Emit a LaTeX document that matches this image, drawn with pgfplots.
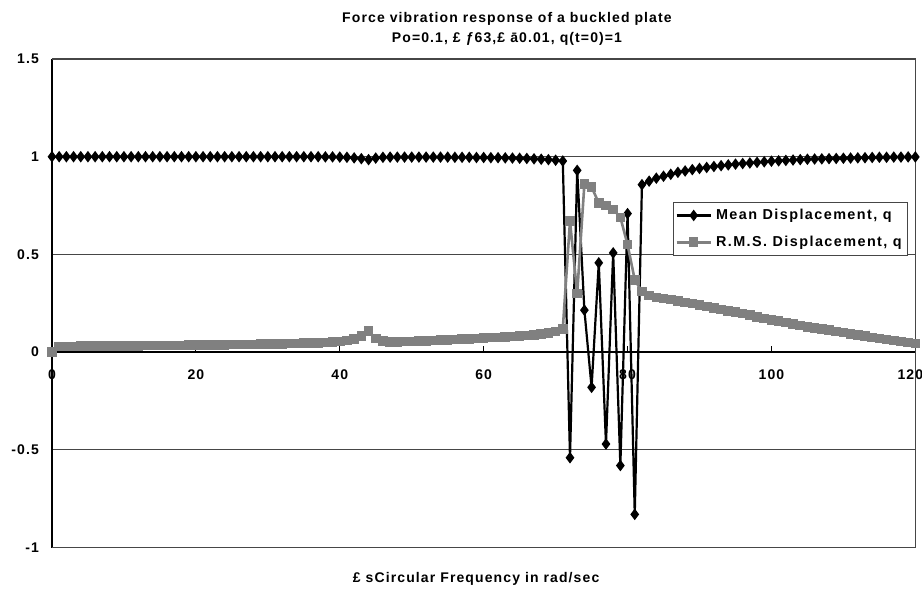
\documentclass[border=0pt]{standalone}
\usepackage{pgfplots}
\pgfplotsset{compat=1.18}
\usepackage{pgfplotstable}
\usepackage{fontspec}
\setmainfont[LetterSpace=8]{Liberation Sans}
\newfontfamily\legfont[LetterSpace=10]{Liberation Sans}
\newcommand{\cf}{\fontsize{7}{8.4}\selectfont\bfseries}
\newcommand{\lf}{\legfont\fontsize{7.2}{8.6}\selectfont\bfseries}
\definecolor{rmsgray}{RGB}{128,128,128}
\definecolor{gridc}{RGB}{70,70,70}
\pgfplotstableread{
x mean rms
0 1.000 0.000
1 1.000 0.030
2 1.000 0.030
3 1.000 0.030
4 1.000 0.031
5 1.000 0.031
6 1.000 0.031
7 1.000 0.032
8 1.000 0.032
9 1.000 0.032
10 1.000 0.033
11 1.000 0.033
12 1.000 0.033
13 1.000 0.034
14 1.000 0.034
15 1.000 0.034
16 1.000 0.035
17 1.000 0.035
18 1.000 0.035
19 1.000 0.036
20 1.000 0.036
21 1.000 0.037
22 1.000 0.037
23 1.000 0.038
24 1.000 0.038
25 1.000 0.039
26 1.000 0.039
27 1.000 0.040
28 1.000 0.040
29 1.000 0.041
30 1.000 0.041
31 1.000 0.042
32 1.000 0.043
33 1.000 0.044
34 1.000 0.045
35 1.000 0.046
36 1.000 0.047
37 1.000 0.048
38 0.999 0.050
39 0.999 0.052
40 0.998 0.055
41 0.997 0.059
42 0.994 0.066
43 0.990 0.082
44 0.985 0.107
45 0.993 0.070
46 0.997 0.056
47 0.998 0.052
48 0.998 0.053
49 0.998 0.054
50 0.998 0.055
51 0.998 0.056
52 0.998 0.058
53 0.998 0.059
54 0.998 0.061
55 0.998 0.062
56 0.997 0.064
57 0.997 0.066
58 0.997 0.068
59 0.996 0.070
60 0.996 0.072
61 0.995 0.074
62 0.995 0.076
63 0.994 0.078
64 0.993 0.080
65 0.992 0.083
66 0.991 0.086
67 0.989 0.089
68 0.987 0.093
69 0.985 0.098
70 0.982 0.105
71 0.978 0.120
72 -0.540 0.670
73 0.930 0.300
74 0.215 0.860
75 -0.180 0.845
76 0.457 0.763
77 -0.470 0.751
78 0.508 0.730
79 -0.580 0.690
80 0.709 0.550
81 -0.830 0.370
82 0.857 0.310
83 0.875 0.290
84 0.890 0.280
85 0.900 0.275
86 0.910 0.270
87 0.920 0.262
88 0.927 0.255
89 0.934 0.248
90 0.940 0.240
91 0.945 0.233
92 0.950 0.226
93 0.954 0.219
94 0.958 0.212
95 0.962 0.205
96 0.965 0.197
97 0.968 0.189
98 0.971 0.181
99 0.974 0.173
100 0.977 0.165
101 0.979 0.158
102 0.981 0.151
103 0.983 0.144
104 0.985 0.137
105 0.987 0.130
106 0.988 0.124
107 0.989 0.118
108 0.990 0.112
109 0.991 0.106
110 0.992 0.100
111 0.993 0.094
112 0.994 0.088
113 0.995 0.082
114 0.996 0.076
115 0.997 0.070
116 0.997 0.065
117 0.998 0.060
118 0.998 0.055
119 0.999 0.050
120 0.999 0.045
}\data
\begin{document}
\begin{tikzpicture}
\begin{axis}[
  scale only axis, width=432pt, height=244.5pt,
  xmin=0, xmax=120, ymin=-1, ymax=1.5,
  axis x line=middle, axis y line=left,
  axis line style={-, black, line width=0.9pt},
  hide obscured x ticks=false, hide obscured y ticks=false,
  xtick={0,20,...,120}, ytick={-1,-0.5,0,0.5,1,1.5},
  xticklabels={0,20,40,60,80,100,{\makebox[0pt][c]{\hspace*{-5pt}120}}},
  yticklabels={-1,-0.5,0,0.5,1,1.5},
  tick label style={font=\cf},
  x tick label style={yshift=-5.5pt},
  y tick label style={xshift=-3pt},
  tick align=inside, major tick length=3pt,
  xtick style={black, line width=0.6pt},
  ytick style={draw=none},
  ymajorgrids, grid style={gridc, line width=0.5pt},
  clip=false,
  legend style={at={(rel axis cs:0.719,0.7076)}, anchor=north west,
    draw=gridc, line width=0.6pt, font=\lf, inner sep=1pt, row sep=2.4pt,
    nodes={inner sep=2pt, text height=5.4pt, text depth=1.6pt}},
  legend cell align=left,
]
\path (rel axis cs:-0.0602,-0.09) rectangle (rel axis cs:1.0069,1.1207);
\draw[gridc, line width=0.8pt] (rel axis cs:0,1) -- (rel axis cs:1,1) -- (rel axis cs:1,0) -- (rel axis cs:0,0);
\addplot[black, line width=1.1pt, mark=diamond*, mark size=2pt] table[x=x, y=mean] {\data};
\addlegendentry{Mean Displacement, q}
\addplot[rmsgray, line width=1.3pt, mark=square*, mark size=1.75pt] table[x=x, y=rms] {\data};
\addlegendentry{R.M.S. Displacement, q}
\node[font=\cf, anchor=base, yshift=18.5pt] at (rel axis cs:0.527,1) {Force vibration response of a buckled plate};
\node[font=\cf, anchor=base, yshift=8pt] at (rel axis cs:0.527,1) {Po=0.1, £ ƒ63,£ ā0.01, q(t=0)=1};
\node[font=\cf, anchor=base, yshift=-17.5pt] at (rel axis cs:0.4913,0) {£ sCircular Frequency in rad/sec};
\end{axis}
\end{tikzpicture}
\end{document}
